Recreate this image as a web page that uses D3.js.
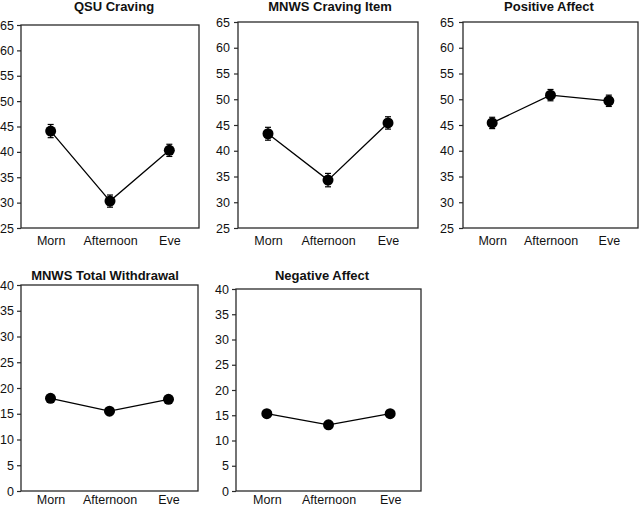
<!DOCTYPE html>
<html>
<head>
<meta charset="utf-8">
<script src="https://cdn.jsdelivr.net/npm/d3@7"></script>
<style>
  html, body { margin: 0; padding: 0; background: #fff; }
  svg { display: block; font-family: "Liberation Sans", Arial, sans-serif; }
</style>
</head>
<body>
<svg id="chart" width="640" height="506"></svg>
<script>
// ---- data ----
const categories = ["Morn", "Afternoon", "Eve"];
const titles = ["QSU Craving", "MNWS Craving Item", "Positive Affect", "MNWS Total Withdrawal", "Negative Affect"];

const qsuMeans = [44.1, 30.3, 40.3];
const qsuErr = [1.3, 1.2, 1.2];
const mnwsCravingMeans = [43.3, 34.3, 45.4];
const mnwsCravingErr = [1.25, 1.3, 1.2];
const posAffectMeans = [45.4, 50.8, 49.7];
const posAffectErr = [1.1, 1.1, 1.1];
const mnwsTotalMeans = [18.0, 15.5, 17.8];
const mnwsTotalErr = [0.5, 0.5, 0.5];
const negAffectMeans = [15.3, 13.1, 15.3];
const negAffectErr = [0.5, 0.5, 0.5];

const topTicks = [25, 30, 35, 40, 45, 50, 55, 60, 65];
const bottomTicks = [0, 5, 10, 15, 20, 25, 30, 35, 40];

// ---- layout ----
const panels = [
  { title: titles[0], means: qsuMeans, errs: qsuErr, ticks: topTicks,
    x0: 21, x1: 199, y0: 25, y1: 228, titleX: 114, titleY: 11, labelY: 245, pad: 3 },
  { title: titles[1], means: mnwsCravingMeans, errs: mnwsCravingErr, ticks: topTicks,
    x0: 238, x1: 418, y0: 22, y1: 228, titleX: 330, titleY: 11, labelY: 245, pad: 4 },
  { title: titles[2], means: posAffectMeans, errs: posAffectErr, ticks: topTicks,
    x0: 463, x1: 638, y0: 22, y1: 228, titleX: 549, titleY: 11, labelY: 245, pad: 5 },
  { title: titles[3], means: mnwsTotalMeans, errs: mnwsTotalErr, ticks: bottomTicks,
    x0: 21, x1: 198, y0: 285, y1: 491, titleX: 105, titleY: 280, labelY: 503.5, pad: 3 },
  { title: titles[4], means: negAffectMeans, errs: negAffectErr, ticks: bottomTicks,
    x0: 236, x1: 421, y0: 289, y1: 491, titleX: 322, titleY: 280, labelY: 503.5, pad: 3 }
];

const svg = d3.select("#chart");
const ink = "#111";

panels.forEach(p => {
  const g = svg.append("g");
  const x = d3.scalePoint().domain(categories).range([p.x0, p.x1]).padding(0.5);
  const y = d3.scaleLinear().domain([d3.min(p.ticks), d3.max(p.ticks)]).range([p.y1, p.y0]);

  // box
  g.append("rect")
    .attr("x", p.x0).attr("y", p.y0)
    .attr("width", p.x1 - p.x0).attr("height", p.y1 - p.y0)
    .attr("fill", "none").attr("stroke", "#2a2a2a").attr("stroke-width", 1.3);

  // y axis
  const ya = g.append("g").attr("transform", `translate(${p.x0},0)`)
    .call(d3.axisLeft(y).tickValues(p.ticks).tickSize(4).tickPadding(p.pad).tickFormat(d3.format("d")));
  ya.select(".domain").remove();
  ya.selectAll("line").attr("stroke", "#2a2a2a").attr("stroke-width", 1.2);
  ya.selectAll("text").attr("font-size", 12.5).attr("fill", ink)
    .attr("font-family", "Liberation Sans, Arial, sans-serif");

  // x axis
  const xa = g.append("g").attr("transform", `translate(0,${p.y1})`)
    .call(d3.axisBottom(x).tickSize(0));
  xa.select(".domain").remove();
  xa.selectAll("text").attr("font-size", 12.5).attr("fill", ink)
    .attr("font-family", "Liberation Sans, Arial, sans-serif")
    .attr("dy", null).attr("y", p.labelY - p.y1);

  // title
  g.append("text")
    .attr("x", p.titleX).attr("y", p.titleY)
    .attr("text-anchor", "middle")
    .attr("font-size", 13).attr("font-weight", "bold").attr("fill", ink)
    .text(p.title);

  const pts = categories.map((c, i) => ({ c, v: p.means[i], e: p.errs[i] }));

  // line
  g.append("path").datum(pts)
    .attr("d", d3.line().x(d => x(d.c)).y(d => y(d.v)))
    .attr("fill", "none").attr("stroke", "#000").attr("stroke-width", 1.3);

  // error bars
  const eb = g.selectAll(".eb").data(pts).enter().append("g").attr("stroke", "#000").attr("stroke-width", 1.2);
  eb.append("line").attr("x1", d => x(d.c)).attr("x2", d => x(d.c))
    .attr("y1", d => y(d.v - d.e)).attr("y2", d => y(d.v + d.e));
  eb.append("line").attr("x1", d => x(d.c) - 3).attr("x2", d => x(d.c) + 3)
    .attr("y1", d => y(d.v - d.e)).attr("y2", d => y(d.v - d.e));
  eb.append("line").attr("x1", d => x(d.c) - 3).attr("x2", d => x(d.c) + 3)
    .attr("y1", d => y(d.v + d.e)).attr("y2", d => y(d.v + d.e));

  // markers
  g.selectAll(".pt").data(pts).enter().append("circle")
    .attr("cx", d => x(d.c)).attr("cy", d => y(d.v)).attr("r", 5.5)
    .attr("fill", "#000");
});
</script>
</body>
</html>
